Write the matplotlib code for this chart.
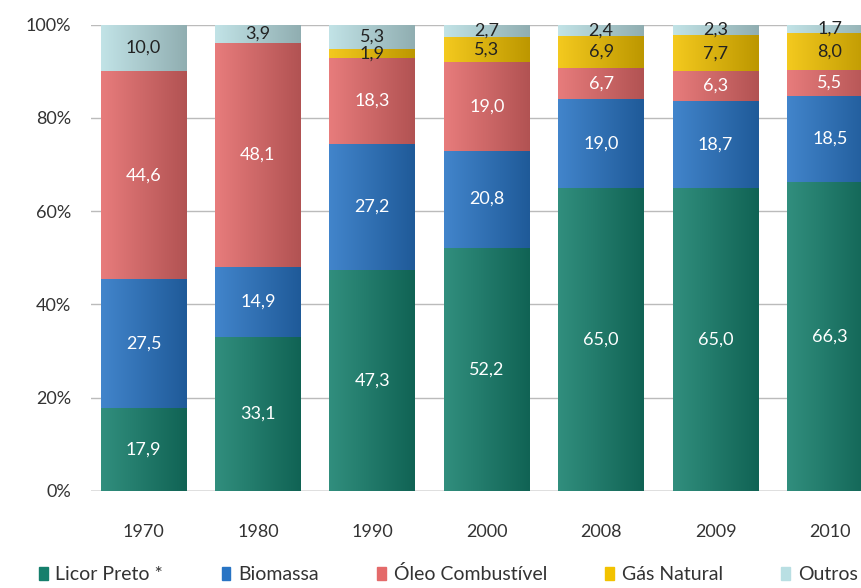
import numpy as np
import matplotlib.pyplot as plt
from matplotlib.colors import to_rgb
from matplotlib.patches import Patch

plt.rcParams['font.family'] = ['Lato', 'DejaVu Sans']

# dados (%)
anos = ['1970', '1980', '1990', '2000', '2008', '2009', '2010']
licor = [17.9, 33.1, 47.3, 52.2, 65.0, 65.0, 66.3]
biomassa = [27.5, 14.9, 27.2, 20.8, 19.0, 18.7, 18.5]
oleo = [44.6, 48.1, 18.3, 19.0, 6.7, 6.3, 5.5]
gas = [0, 0, 1.9, 5.3, 6.9, 7.7, 8.0]
outros = [10.0, 3.9, 5.3, 2.7, 2.4, 2.3, 1.7]

series = [
    ('Licor Preto *', licor, '#157f6c', 'white'),
    ('Biomassa', biomassa, '#2874c4', 'white'),
    ('Óleo Combustível', oleo, '#e46a6a', 'white'),
    ('Gás Natural', gas, '#f2c200', '#222222'),
    ('Outros', outros, '#b9dfe3', '#222222'),
]

fig = plt.figure(figsize=(8.62, 5.88), dpi=100)
ax = fig.add_axes([0.105, 0.165, 0.895, 0.793])

x = np.arange(len(anos))
largura = 0.75


def barra_gradiente(ax, xc, base, altura, cor):
    # barra com leve gradiente (mais clara a esquerda, mais escura a direita)
    c = np.array(to_rgb(cor))
    t = np.linspace(0, 1, 64)
    claro = c + (1 - c) * 0.12
    escuro = c * 0.78
    grad = claro[None, :] * (1 - t[:, None]) + escuro[None, :] * t[:, None]
    ax.imshow(grad[None, :, :], extent=[xc - largura / 2, xc + largura / 2, base, base + altura],
              aspect='auto', interpolation='bilinear', zorder=2)


bottom = np.zeros(len(anos))
for nome, vals, cor, cor_txt in series:
    for i, v in enumerate(vals):
        if v <= 0:
            continue
        barra_gradiente(ax, x[i], bottom[i], v, cor)
        txt = f'{v:.1f}'.replace('.', ',')
        ax.text(x[i], bottom[i] + v / 2, txt, ha='center', va='center',
                color=cor_txt, fontsize=13, zorder=3)
    bottom += np.array(vals)

ax.set_xlim(-0.463, 6.28)
ax.set_ylim(0, 100)
ax.set_yticks(range(0, 101, 20))
ax.set_yticklabels([f'{v}%' for v in range(0, 101, 20)], fontsize=13, color='#333333')
ax.set_xticks(x)
ax.set_xticklabels(anos, fontsize=13, color='#333333')
ax.tick_params(axis='y', length=0, pad=14)
ax.tick_params(axis='x', length=0, pad=24)
ax.grid(axis='y', color='#bbbbbb', linewidth=1, zorder=0)
ax.set_axisbelow(True)
for s in ax.spines.values():
    s.set_visible(False)
ax.axhline(0, color='#999999', linewidth=1, zorder=1)

handles = [Patch(color=cor, label=nome) for nome, vals, cor, _ in series]
fig.legend(handles=handles, loc='lower center', ncol=5, frameon=False, fontsize=14,
           bbox_to_anchor=(0.52, -0.022), handlelength=0.45, handleheight=0.7,
           handletextpad=0.4, columnspacing=3.0, labelcolor='#333333')

fig.savefig('out.png', dpi=100)
